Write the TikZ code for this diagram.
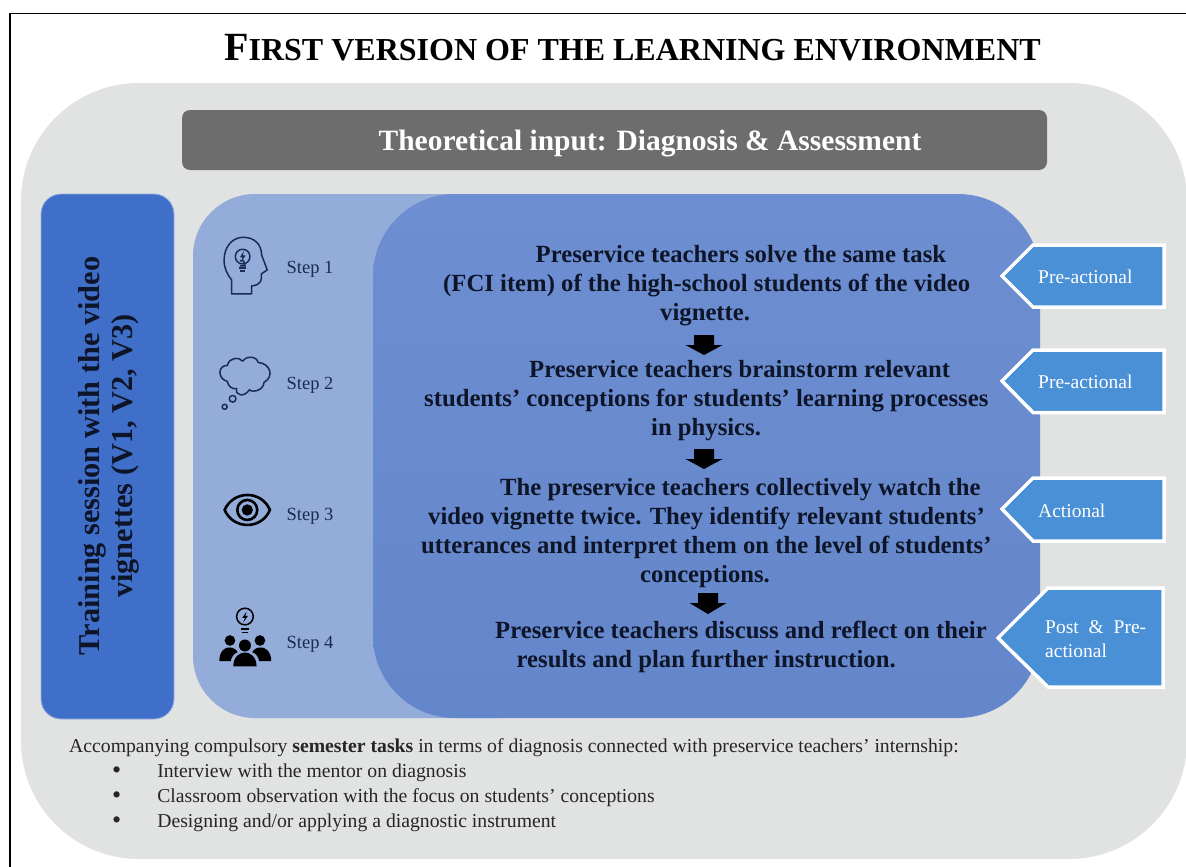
\documentclass[tikz,border=0pt]{standalone}
\usepackage{fontspec}
\setmainfont{Liberation Serif}
\usetikzlibrary{shapes.geometric}
\definecolor{panelgrey}{HTML}{E1E2E2}
\definecolor{barg}{HTML}{6E6D6D}
\definecolor{sideblue}{HTML}{3F6FC9}
\definecolor{lightpanel}{HTML}{93ACD9}
\definecolor{darkpanel}{HTML}{678AD0}
\definecolor{tagblue}{HTML}{4A90D6}
\definecolor{navy}{HTML}{1B2C52}
\definecolor{inktext}{HTML}{0E1528}
\tikzset{
  x=1pt,y=-1pt,
  bodytext/.style={anchor=north west,inner sep=0pt,align=left,text=inktext,font=\fontsize{24.7}{29}\selectfont\bfseries},
  steplabel/.style={anchor=west,inner sep=0pt,text=navy,font=\fontsize{18.5}{20}\selectfont},
  tagshape/.style={fill=tagblue,draw=white,line width=3.5pt,line join=miter},
  taglabel/.style={anchor=west,inner sep=0pt,text=white,align=left,font=\fontsize{19.5}{24}\selectfont},
  downarrow/.style={fill=black,draw=none},
  iconline/.style={draw=navy,line width=1.5pt,line join=round,fill=none},
  iconblack/.style={draw=black,line width=2.6pt,fill=none},
}
\newcommand{\blockarrow}[3]{\fill[downarrow] (#1-10,#2) -- (#1+10,#2) -- (#1+10,#2+10) -- (#1+18.5,#2+10) -- (#1,#3) -- (#1-18.5,#2+10) -- (#1-10,#2+10) -- cycle;}
\newcommand{\bigdot}{\hspace*{43pt}\raisebox{-1.5pt}{\fontsize{26}{25}\selectfont•}\hspace{36pt}}
\begin{document}
\begin{tikzpicture}
\useasboundingbox (0,0) rectangle (1186,867);
\fill[white] (0,0) rectangle (1186,867);
\draw[black,line width=1.6pt] (10,867) -- (10,13.5) -- (1186,13.5);
% title
\node[anchor=base west,inner sep=0pt,text=black,font=\bfseries] (title) at (224,60)
  {{\fontsize{40}{42}\selectfont F}{\fontsize{32}{42}\selectfont IRST VERSION OF THE LEARNING ENVIRONMENT}};
% panels
\fill[panelgrey,rounded corners=118pt] (21,83) rectangle (1187,859);
\fill[barg,rounded corners=8pt] (182,110) rectangle (1047,170);
\node[anchor=base,inner sep=0pt,text=white,font=\fontsize{29.5}{32}\selectfont\bfseries] (theory) at (650,150) {Theoretical input: Diagnosis \& Assessment};
\draw[sideblue!55!white,fill=sideblue,line width=0.8pt,rounded corners=20pt] (41,194) rectangle (174,719);
\node[rotate=90,inner sep=0pt,align=center,text=inktext,font=\fontsize{30.3}{33}\selectfont\bfseries] (side) at (108.5,456) {Training session with the video\\vignettes (V1, V2, V3)};
\fill[lightpanel,rounded corners=62pt] (193,194) rectangle (560,718);
\shade[top color=darkpanel!96!white,bottom color=darkpanel!97!black,rounded corners=82pt] (373,194) rectangle (1040,718);
% step labels
\node[steplabel] (s1) at (286.5,269) {Step 1};
\node[steplabel] (s2) at (286.5,385) {Step 2};
\node[steplabel] (s3) at (286.5,516) {Step 3};
\node[steplabel] (s4) at (286.5,644) {Step 4};
% head icon
\begin{scope}[shift={(190,200)},x=0.333pt,y=-0.333pt]
\draw[iconline] (125,282) -- (125,240) .. controls (105,215) and (100,190) .. (103,170) .. controls (108,130) and (135,112) .. (160,112) .. controls (195,112) and (215,135) .. (215,165) -- (232,210) -- (214,222) .. controls (216,240) and (215,255) .. (185,258) -- (185,282) -- cycle;
\draw[iconline] (158,170) circle (22);
\draw[iconline] (150,182) -- (160,182) -- (166,198) -- (150,198);
\fill[navy] (162,153) -- (150,172) -- (158,172) -- (154,187) -- (167,166) -- (159,166) -- cycle;
\draw[iconline] (148,204) -- (168,204) (151,213) -- (165,213);
\end{scope}
% cloud icon
\begin{scope}[shift={(190,200)},x=0.333pt,y=-0.333pt]
\draw[iconline] (112,545) .. controls (80,535) and (85,495) .. (112,497) .. controls (118,472) and (148,470) .. (158,484) .. controls (175,462) and (205,475) .. (205,488) .. controls (240,490) and (255,530) .. (222,548) .. controls (222,570) and (190,580) .. (178,570) .. controls (165,592) and (135,590) .. (140,566) .. controls (128,570) and (115,560) .. (112,545) -- cycle;
\draw[iconline] (128,597) circle (10);
\draw[iconline] (104,621) circle (7.5);
\end{scope}
% eye icon
\begin{scope}[shift={(190,470)},x=0.333pt,y=-0.333pt]
\draw[iconblack,line join=miter] (104,120) .. controls (130,60) and (215,60) .. (240,120) .. controls (215,180) and (130,180) .. (104,120) -- cycle;
\draw[iconblack] (172,120) circle (30);
\fill[black] (172,120) circle (17);
\end{scope}
% team icon
\begin{scope}[shift={(190,470)},x=0.333pt,y=-0.333pt]
\draw[iconline,draw=black] (165,440) circle (25);
\fill[black] (170,425) -- (157,444) -- (165,444) -- (160,458) -- (174,438) -- (166,438) -- cycle;
\draw[iconline,draw=black] (152,478) -- (178,478) (155,488) -- (175,488);
\fill[black] (120,512) circle (16) (210,512) circle (16) (165,527) circle (18);
\fill[black] (88,574) .. controls (88,545) and (105,530) .. (120,533) .. controls (130,533) and (140,540) .. (143,547) .. controls (130,552) and (125,562) .. (122,574) -- cycle;
\fill[black] (244,574) .. controls (244,545) and (225,530) .. (210,533) .. controls (200,533) and (190,540) .. (187,547) .. controls (200,552) and (205,562) .. (208,574) -- cycle;
\fill[black] (130,590) .. controls (130,560) and (150,548) .. (165,548) .. controls (180,548) and (200,560) .. (200,590) -- cycle;
\end{scope}
% main text
\node[bodytext] (t1) at (443,245) {\hspace*{92.5pt}Preservice teachers solve the same task\\(FCI item) of the high-school students of the video\\\hspace*{217pt}vignette.};
\node[bodytext] (t2) at (424,360) {\hspace*{105pt}Preservice teachers brainstorm relevant\\students’ conceptions for students’ learning processes\\\hspace*{227pt}in physics.};
\node[bodytext] (t3) at (421,478) {\hspace*{79pt}The preservice teachers collectively watch the\\\hspace*{7pt}video vignette twice. They identify relevant students’\\utterances and interpret them on the level of students’\\\hspace*{219pt}conceptions.};
\node[bodytext] (t4) at (495,621) {Preservice teachers discuss and reflect on their\\\hspace*{21.5pt}results and plan further instruction.};
% arrows
\blockarrow{704}{335}{355}
\blockarrow{704}{449}{469}
\blockarrow{708}{593}{614}
% tags
\path[tagshape] (1002,276) -- (1033,245) -- (1164,245) -- (1164,307) -- (1033,307) -- cycle;
\path[tagshape] (1002,381) -- (1033,350) -- (1164,350) -- (1164,412.5) -- (1033,412.5) -- cycle;
\path[tagshape] (1002,509) -- (1033,478) -- (1164,478) -- (1164,541) -- (1033,541) -- cycle;
\path[tagshape] (998,638) -- (1048,588) -- (1163,588) -- (1163,687) -- (1048,687) -- cycle;
\node[taglabel] (g1) at (1038,277) {Pre-actional};
\node[taglabel] (g2) at (1038,382) {Pre-actional};
\node[taglabel] (g3) at (1038,511) {Actional};
\node[taglabel] (g4) at (1045,639) {Post\hspace{5pt} \&\hspace{5pt} Pre-\\actional};
% bottom text
\node[anchor=north west,inner sep=0pt,align=left,text=black!85,font=\fontsize{19.7}{25}\selectfont] (notes) at (69,738)
{Accompanying compulsory \textbf{semester tasks} in terms of diagnosis connected with preservice teachers’ internship:\\
\bigdot Interview with the mentor on diagnosis\\
\bigdot Classroom observation with the focus on students’ conceptions\\
\bigdot Designing and/or applying a diagnostic instrument};
\end{tikzpicture}
\end{document}
